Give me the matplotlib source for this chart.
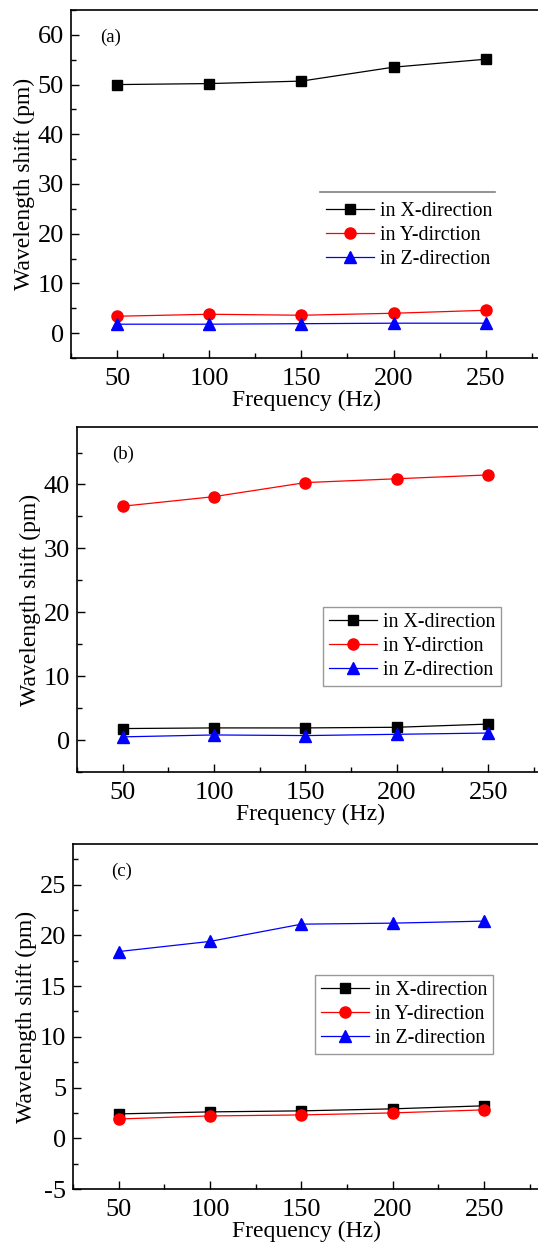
import numpy as np
import matplotlib
matplotlib.use("Agg")
import matplotlib.pyplot as plt
from matplotlib.ticker import MultipleLocator

plt.rcParams['font.family'] = ['Liberation Serif', 'DejaVu Serif']
plt.rcParams['axes.unicode_minus'] = False

freq = [50, 100, 150, 200, 250]

# panel (a)
a_x = [50.0, 50.2, 50.7, 53.5, 55.1]
a_y = [3.4, 3.8, 3.6, 4.0, 4.6]
a_z = [1.8, 1.8, 1.9, 2.0, 2.0]

# panel (b)
b_x = [1.8, 1.9, 1.9, 2.0, 2.5]
b_y = [36.6, 38.1, 40.3, 40.9, 41.5]
b_z = [0.5, 0.8, 0.7, 0.9, 1.1]

# panel (c)
c_x = [2.4, 2.6, 2.7, 2.9, 3.2]
c_y = [1.9, 2.2, 2.3, 2.5, 2.8]
c_z = [18.4, 19.4, 21.1, 21.2, 21.4]

labels_ab = ['in X-direction', 'in Y-dirction', 'in Z-direction']
labels_c = ['in X-direction', 'in Y-direction', 'in Z-direction']

W, H = 538, 1243
fig = plt.figure(figsize=(W / 100, H / 100), dpi=100)


def px_axes(x0, x1, top, bottom):
    return fig.add_axes([x0 / W, 1 - bottom / H, (x1 - x0) / W, (bottom - top) / H])


def draw(ax, xs, ys, zs, labels, ylim, ymaj, ymin, tag, tagpos):
    ax.plot(freq, xs, '-s', color='black', lw=0.9, ms=7.5, label=labels[0])
    ax.plot(freq, ys, '-o', color='red', lw=0.9, ms=8, label=labels[1])
    ax.plot(freq, zs, '-^', color='blue', lw=0.9, ms=8.5, label=labels[2])
    ax.set_xlim(25, 280)
    ax.set_ylim(*ylim)
    ax.xaxis.set_major_locator(MultipleLocator(50))
    ax.xaxis.set_minor_locator(MultipleLocator(25))
    ax.yaxis.set_major_locator(MultipleLocator(ymaj))
    ax.yaxis.set_minor_locator(MultipleLocator(ymin))
    ax.tick_params(which='both', direction='in', top=False, right=False,
                   labelsize=19, width=1.0)
    ax.tick_params(which='major', length=6, pad=5)
    ax.tick_params(axis='x', which='major', pad=7)
    ax.tick_params(which='minor', length=3.5)
    for s in ax.spines.values():
        s.set_linewidth(1.2)
    ax.set_xlabel('Frequency (Hz)', fontsize=17, labelpad=0)
    ax.set_ylabel('Wavelength shift (pm)', fontsize=17, labelpad=2)
    ax.text(tagpos[0], tagpos[1], tag, transform=ax.transAxes, fontsize=13.5,
            va='center', ha='left')


ax1 = px_axes(71, 541, 10, 358)
draw(ax1, a_x, a_y, a_z, labels_ab, (-5, 65), 10, 5, '(a)', (0.062, 0.92))
leg1 = ax1.legend(loc='upper left', bbox_to_anchor=(318 / W, 1 - 194 / H),
                  bbox_transform=fig.transFigure, frameon=False, fontsize=14.3,
                  handlelength=2.4, handletextpad=0.3, labelspacing=0.25,
                  borderaxespad=0)
ax1.plot([(320 - 71) / 470, (495 - 71) / 470], [(358 - 192) / 348] * 2,
         transform=ax1.transAxes, color='gray', lw=1.2, clip_on=False)

ax2 = px_axes(77, 543, 427, 772)
draw(ax2, b_x, b_y, b_z, labels_ab, (-5, 49), 10, 5, '(b)', (0.075, 0.92))
leg2 = ax2.legend(loc='upper left', bbox_to_anchor=(323 / W, 1 - 607 / H),
                  bbox_transform=fig.transFigure, fontsize=14.3, fancybox=False,
                  edgecolor='gray', handlelength=2.4, handletextpad=0.3,
                  labelspacing=0.25, borderaxespad=0, borderpad=0.3)
leg2.get_frame().set_linewidth(1.0)

ax3 = px_axes(73, 539, 844, 1189)
draw(ax3, c_x, c_y, c_z, labels_c, (-5, 29), 5, 2.5, '(c)', (0.082, 0.92))
leg3 = ax3.legend(loc='upper left', bbox_to_anchor=(315 / W, 1 - 975 / H),
                  bbox_transform=fig.transFigure, fontsize=14.3, fancybox=False,
                  edgecolor='gray', handlelength=2.4, handletextpad=0.3,
                  labelspacing=0.25, borderaxespad=0, borderpad=0.3)
leg3.get_frame().set_linewidth(1.0)

fig.savefig('out.png', dpi=100)
